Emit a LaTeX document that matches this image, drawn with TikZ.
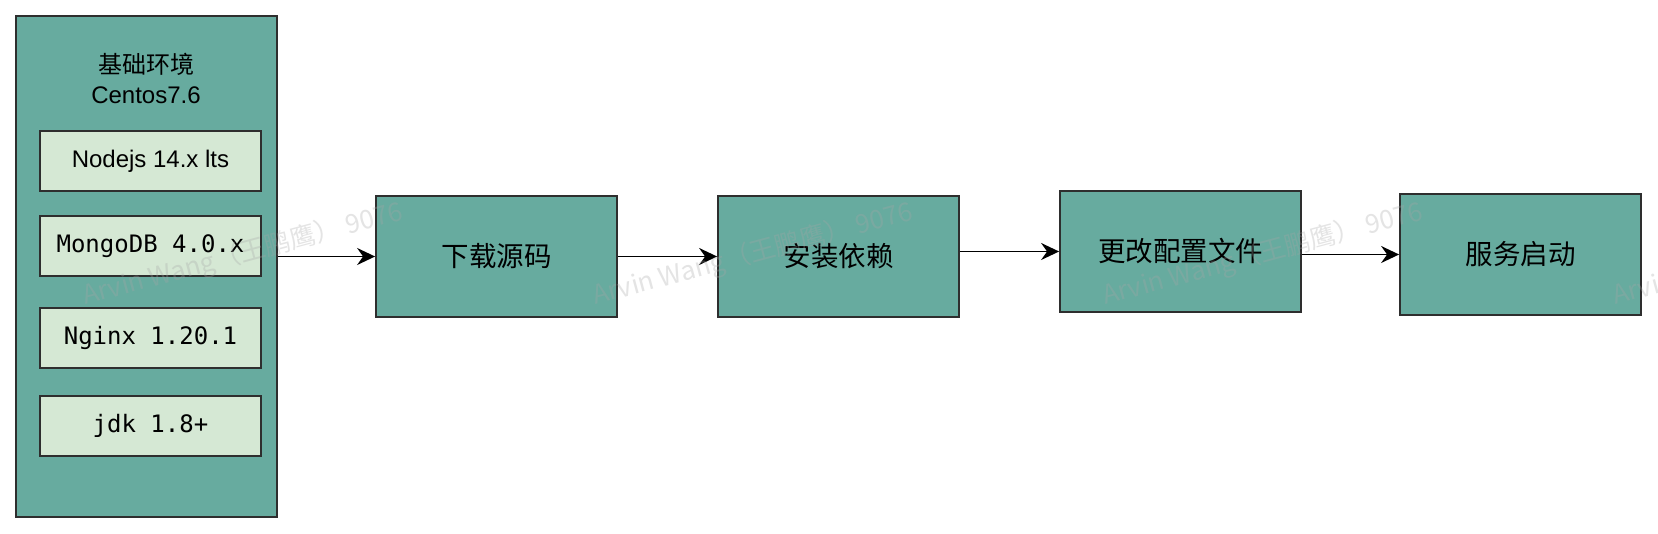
\documentclass[tikz,border=0pt]{standalone}
\usepackage{fontspec}
\setmainfont{Liberation Sans}
\setmonofont{DejaVu Sans Mono}
\newfontfamily\cjk{Noto Sans CJK SC}
\usetikzlibrary{arrows.meta,calc}
\definecolor{tealfill}{HTML}{67AB9F}
\definecolor{lightgreen}{HTML}{D5E8D4}
\definecolor{edgecol}{HTML}{2E2E2E}
\begin{document}
\begin{tikzpicture}[x=1pt,y=-1pt,
  outerbox/.style={draw=edgecol,fill=tealfill,line width=1.8pt,inner sep=0pt},
  itembox/.style={draw=edgecol,fill=lightgreen,line width=1.8pt,minimum width=221pt,minimum height=60pt,inner sep=0pt},
  stepbox/.style={draw=edgecol,fill=tealfill,line width=1.8pt,minimum width=241pt,minimum height=121pt,inner sep=0pt,font=\cjk\fontsize{27.5}{30}\selectfont},
  arr/.style={line width=1.8pt,draw=black,-{Stealth[length=18pt,width=17pt,inset=6pt]}},
  wm/.style={rotate=15,anchor=base west,text=gray!70,opacity=0.3,font=\cjk\fontsize{26}{30}\selectfont,inner sep=0pt}
]
\useasboundingbox (0,0) rectangle (1658,534);
\fill[white] (0,0) rectangle (1658,534);
% environment column
\node[outerbox,minimum width=261pt,minimum height=501pt] (env) at (146.5,266.2) {};
\node[font=\fontsize{24}{30}\selectfont,align=center,inner sep=0pt] (title) at (146,78) {{\cjk 基础环境}\\Centos7.6};
\node[itembox,font=\fontsize{24}{28}\selectfont] (n1) at (150.5,161.3) {Nodejs 14.x lts};
\node[itembox,font=\ttfamily\fontsize{24}{28}\selectfont] (n2) at (150.5,245.9) {MongoDB 4.0.x};
\node[itembox,font=\ttfamily\fontsize{24}{28}\selectfont] (n3) at (150.5,338.3) {Nginx 1.20.1};
\node[itembox,font=\ttfamily\fontsize{24}{28}\selectfont] (n4) at (150.5,426.3) {jdk 1.8+};
% steps
\node[stepbox] (A) at (496.5,256.5) {下载源码};
\node[stepbox] (B) at (838.5,256.5) {安装依赖};
\node[stepbox] (C) at (1180.5,251.5) {更改配置文件};
\node[stepbox] (D) at (1520.5,254.5) {服务启动};
% connectors
\draw[arr] (env.east |- A.west) -- (A.west);
\draw[arr] (A.east) -- (B.west);
\draw[arr] (B.east |- C.west) -- (C.west);
\draw[arr] (C.east |- D.west) -- (D.west);
% watermark
\foreach \x in {85,595,1105,1615} {
  \node[wm] (wm\x) at (\x,305) {Arvin Wang（王鹏鹰） 9076};
}
\end{tikzpicture}
\end{document}
